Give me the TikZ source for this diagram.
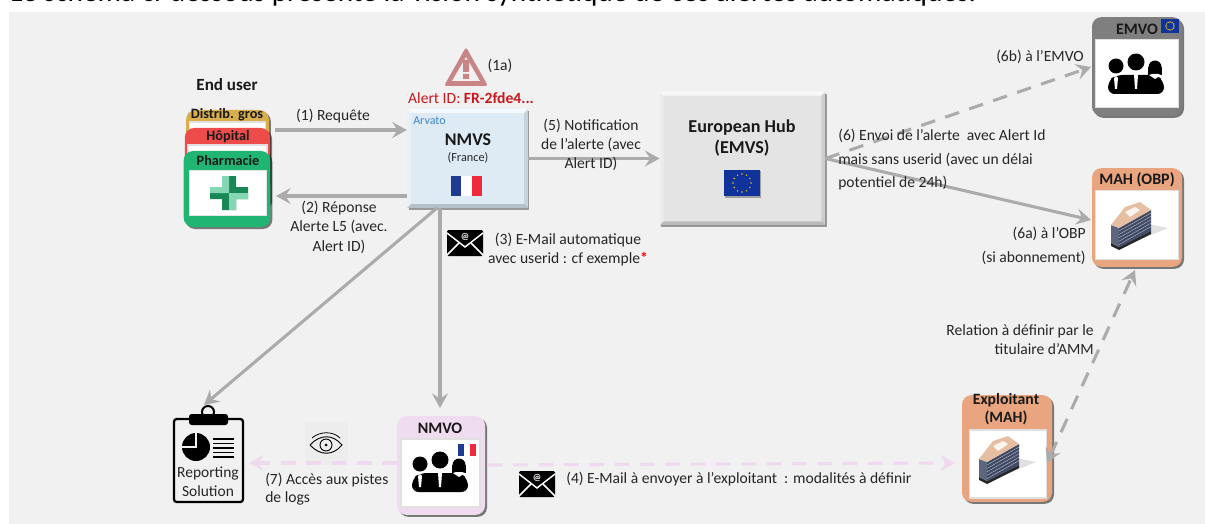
\documentclass[tikz,border=0pt]{standalone}
\usepackage{fontspec}
\setmainfont{Carlito}
\usetikzlibrary{arrows.meta,shadows}

\definecolor{panelgrey}{HTML}{F1F1F1}
\definecolor{arrowgrey}{HTML}{ABABAB}
\definecolor{linkpink}{HTML}{F0D9F0}
\definecolor{nmvoback}{HTML}{EFDCF0}
\definecolor{mahorange}{HTML}{E8A57F}
\definecolor{emvogrey}{HTML}{7F7F7F}
\definecolor{distgold}{HTML}{D9AE4C}
\definecolor{hopred}{HTML}{EE4B4B}
\definecolor{pharmgreen}{HTML}{21B573}
\definecolor{alertred}{HTML}{C8171D}
\definecolor{warnrose}{HTML}{C98585}
\definecolor{nmvsblue}{HTML}{DEEBF5}
\definecolor{hubgrey}{HTML}{E4E4E4}
\definecolor{arvatoblue}{HTML}{3B86C8}
\definecolor{frblue}{HTML}{1F3A93}
\definecolor{frred}{HTML}{EE2B3B}
\definecolor{eublue}{HTML}{10329B}
\definecolor{euyellow}{HTML}{E8C020}
\definecolor{slateface}{HTML}{3F4A66}
\definecolor{slateside}{HTML}{5C667C}
\definecolor{roofpeach}{HTML}{E6BFA2}

\newcommand{\frflag}[3]{% left, bottom, width
  \fill[frblue] (#1,#2) rectangle ++(#3/3,-#3*.66);
  \fill[white] (#1+#3/3,#2) rectangle ++(#3/3,-#3*.66);
  \fill[frred] (#1+2*#3/3,#2) rectangle ++(#3/3,-#3*.66);
}
\newcommand{\bevelbox}[1]{% lighter top and left, darker bottom and right
  \fill[white,opacity=.75] (#1.north west) -- (#1.north east) -- ([xshift=-3pt,yshift=-3pt]#1.north east) -- ([xshift=3pt,yshift=-3pt]#1.north west) -- cycle;
  \fill[white,opacity=.3] (#1.north west) -- (#1.south west) -- ([xshift=3pt,yshift=3pt]#1.south west) -- ([xshift=3pt,yshift=-3pt]#1.north west) -- cycle;
  \fill[black,opacity=.18] (#1.south west) -- (#1.south east) -- ([xshift=-3pt,yshift=3pt]#1.south east) -- ([xshift=3pt,yshift=3pt]#1.south west) -- cycle;
  \fill[black,opacity=.1] (#1.north east) -- (#1.south east) -- ([xshift=-3pt,yshift=3pt]#1.south east) -- ([xshift=-3pt,yshift=-3pt]#1.north east) -- cycle;
}

\tikzset{
  txt/.style={font=\fontsize{11.7}{14}\selectfont,text=black!85,inner sep=0pt},
  title/.style={font=\fontsize{12}{14}\selectfont\bfseries,text=black!90,inner sep=0pt},
  cardname/.style={title,font=\fontsize{10.7}{12}\selectfont\bfseries},
  sharp/.style={fill=#1,inner sep=0pt,
    drop shadow={shadow xshift=1pt,shadow yshift=-1.5pt,fill=black,opacity=.35}},
  card/.style={fill=#1,rounded corners=7pt,inner sep=0pt,
    drop shadow={shadow xshift=1.5pt,shadow yshift=-1.5pt,fill=black,opacity=.5}},
  pane/.style={fill=white,draw=black!12,line width=1.2pt,inner sep=0pt},
  link/.style={draw=arrowgrey,line width=2.3pt,-{Stealth[length=11pt,width=12pt,inset=4pt]}},
  duelink/.style={link,dash pattern=on 11pt off 8pt},
  pinklink/.style={duelink,draw=linkpink},
  people/.pic={
    \fill (-20,-9) circle (7.5);
    \fill (0,-13) circle (8.5);
    \fill (19,-8) circle (6.5);
    \fill (12,-8) rectangle (26,0);
    \fill[rounded corners=5pt] (-28,19) -- (-28,6) -- (-20,0) -- (20,0) -- (28,6) -- (28,19) -- cycle;
    \fill[white] (-20,1) -- (-18,3) -- (-19,14) -- (-21,14) -- (-22,3) -- cycle;
    \fill[white] (0,-3) -- (2,0) -- (1,14) -- (-1,14) -- (-2,0) -- cycle;
    \fill[white] (13,0) -- (19,4) -- (25,0) -- (22,-1) -- (16,-1) -- cycle;
  },
  building/.pic={
    \fill[black!12] (-9,23) -- (37,4) -- (17,0) -- cycle;
    \fill[black!85] (-20,19) -- (-12,23) -- (20,7) -- (20,10) -- (-12,26) -- (-20,22) -- cycle;
    \fill[slateside] (-20,1) -- (-12,4) -- (-12,23) -- (-20,19) -- cycle;
    \fill[slateface] (-12,4) -- (20,-14) -- (20,7) -- (-12,23) -- cycle;
    \foreach \row in {0,...,4}
      \draw[black!25,line width=.3pt] (-12,{7+\row*3.4}) -- (20,{-11+\row*3.4});
    \fill[roofpeach] (-20,1) -- (-12,4) -- (20,-14) -- (9,-22) -- (-6,-17) -- cycle;
    \fill[white!85!roofpeach] (-6,-12) -- (4,-17) -- (9,-14) -- (-1,-7) -- cycle;
  },
  envelope/.pic={
    \fill[rounded corners=1pt] (-18,-13) rectangle (18,13);
    \draw[white,line width=1.1pt] (-18,-10) -- (0,4) -- (18,-10);
    \draw[white,line width=1.1pt] (-18,12) -- (-6,0) (18,12) -- (6,0);
    \node (#1) [font=\fontsize{7}{7}\selectfont\bfseries,text=white,inner sep=0pt] at (0,-6) {@};
  },
  eustars/.pic={
    \foreach \ang in {0,30,...,330}
      \fill[euyellow] (\ang:#1) circle (.8);
  },
}

\begin{document}
\begin{tikzpicture}[x=0.75pt,y=-0.75pt]
\useasboundingbox (0,0) rectangle (1205,524);
\fill[white] (0,0) rectangle (1205,524);
\fill[panelgrey] (9,12) rectangle (1205,524);
\begin{scope}
\clip (0,0) rectangle (1205,12);
\node (intro) [anchor=base west,inner sep=0pt,font=\fontsize{22}{24}\selectfont] at (10,2)
  {Le schéma ci-dessous présente la vision synthétique de ces alertes automatiques.};
\end{scope}

% end user cards
\node (enduser) [title,font=\fontsize{12.8}{14}\selectfont\bfseries] at (227,85) {End user};
\node (distcard) [card=distgold,minimum width=62pt,minimum height=60pt] at (227.5,150) {};
\node (distpane) [pane,minimum width=57pt,minimum height=30pt] at (227.5,142) {};
\node (distname) [cardname] at (227,115) {Distrib. gros};
\node (hopcard) [card=hopred,minimum width=64pt,minimum height=60pt] at (227.5,168) {};
\node (hoppane) [pane,minimum width=59pt,minimum height=30pt] at (227.5,165) {};
\node (hopname) [cardname] at (228,137) {Hôpital};
\node (pharmcard) [card=pharmgreen,minimum width=65pt,minimum height=57pt] at (227,189) {};
\node (pharmpane) [pane,minimum width=58pt,minimum height=34pt,draw=black!10] at (228,193) {};
\node (pharmname) [cardname] at (228,161) {Pharmacie};
\fill[pharmgreen!75!black] (222,176) rectangle (236,210) (210,187) rectangle (248,199);
\fill[pharmgreen!55!white] (210,187) rectangle (229,193) (229,193) rectangle (248,199)
  (222,176) rectangle (229,193) (229,193) rectangle (236,210);

% nmvs
\fill[warnrose,rounded corners=2pt] (466,47) -- (444,86) -- (488,86) -- cycle;
\fill[panelgrey] (466,57) -- (452,81) -- (480,81) -- cycle;
\fill[warnrose] (463,60) rectangle (469,72) (463,74) rectangle (469,79);
\node (warnlabel) [txt] at (500,66) {(1a)};
\node (alertid) [txt,text=alertred] at (471,98) {Alert ID: \textbf{FR-2fde4...}};
\node (nmvs) [sharp=nmvsblue,minimum width=90.5pt,minimum height=74pt] at (467.5,158.5) {};
\bevelbox{nmvs}
\node (arvato) [txt,anchor=west,text=arvatoblue,font=\fontsize{9}{10}\selectfont] at (413,121) {Arvato};
\node (nmvsname) [title,font=\fontsize{13.4}{14}\selectfont\bfseries] at (468,140) {NMVS};
\node (nmvsland) [txt,font=\fontsize{9.2}{10}\selectfont] at (468,158) {(France)};
\frflag{451}{196}{31}

% european hub
\node (hub) [sharp=hubgrey,minimum width=124pt,minimum height=100pt] at (742.5,158.5) {};
\bevelbox{hub}
\node (hubname) [title,align=center,font=\fontsize{13.6}{16}\selectfont\bfseries] at (742,138) {European Hub\\(EMVS)};
\node (hubflag) [fill=eublue,minimum width=27pt,minimum height=20pt,inner sep=0pt,
  drop shadow={shadow xshift=1pt,shadow yshift=-1pt,fill=black,opacity=.3}] at (742,183) {};
\pic at (742,183) {eustars=9};

% emvo
\node (emvo) [card=emvogrey,minimum width=67.5pt,minimum height=74pt] at (1137,66.5) {};
\node (emvopane) [pane,minimum width=62pt,minimum height=51pt] at (1137,73.5) {};
\node (emvoname) [title] at (1137,29) {EMVO};
\node (emvoflag) [fill=eublue,minimum width=13.5pt,minimum height=10.5pt,inner sep=0pt] at (1170,26) {};
\pic at (1170,26) {eustars=4};
\pic at (1136,75) {people};

% mah obp
\node (obp) [card=mahorange,minimum width=67.5pt,minimum height=74pt] at (1137,217.5) {};
\node (obppane) [pane,minimum width=62pt,minimum height=52pt] at (1137,225) {};
\node (obpname) [title] at (1137,180) {MAH (OBP)};
\pic at (1131,224) {building};

% exploitant
\node (mah) [card=mahorange,minimum width=67.5pt,minimum height=80pt] at (1007,448.5) {};
\node (mahpane) [pane,minimum width=58pt,minimum height=51pt] at (1008,464) {};
\node (mahname) [title,align=center,font=\fontsize{11.8}{14}\selectfont\bfseries] at (1006,409) {Exploitant\\(MAH)};
\pic at (999,458) {building};

% nmvo
\node (nmvo) [card=nmvoback,minimum width=66pt,minimum height=74pt] at (441,465.5) {};
\node (nmvopane) [pane,minimum width=59pt,minimum height=51pt] at (440.5,473) {};
\node (nmvoname) [title] at (440,428) {NMVO};
\pic at (440,473) {people};
\frflag{458}{456}{18}

% reporting solution
\draw[line width=1.7pt,rounded corners=2pt] (190,419) -- (174,419) -- (174,502) -- (243,502) -- (243,419) -- (226,419);
\draw[line width=1.5pt] (208,412) circle (6);
\fill[rounded corners=2pt] (189,414) rectangle (228,425);
\fill (196,447) circle (14);
\draw[panelgrey,line width=1pt] (182,447) -- (196,447) -- (196,433);
\foreach \row in {439,443.5,...,461}
  \draw[line width=1.3pt] (213,\row) -- (234,\row);
\node (report) [txt,align=center,font=\fontsize{11.6}{14}\selectfont] at (208,482) {Reporting\\Solution};

% eye
\node (eyeback) [fill=black!7,minimum width=32pt,minimum height=32pt,inner sep=0pt] at (326.5,443.5) {};
\draw[line width=.7pt] (310,445) .. controls (320,434) and (333,434) .. (342,445) .. controls (333,456) and (320,456) .. (310,445);
\draw[line width=.7pt] (326,445) circle (6);
\fill (326,445) circle (1.5);
\draw[line width=.6pt] (312,438) .. controls (320,431) and (333,431) .. (340,438);

% connectors
\coordinate (reqstart) at (275,130);
\coordinate (reqend) at (nmvs.west |- reqstart);
\coordinate (repstart) at (nmvs.west |- 0,196);
\coordinate (repend) at (276,196);
\coordinate (notifstart) at (nmvs.east |- hub.west);
\coordinate (obpin) at (1091,220);
\coordinate (emvoin) at (1091,67);
\coordinate (logsend) at (249,463);
\coordinate (nmvoleft) at (397,463);
\coordinate (nmvoright) at (488,465);
\coordinate (mahin) at (955,463);
\coordinate (mailend) at (1135,270);
\coordinate (mailstart) at (1047,463);
\coordinate (nmvsout) at (440,208);
\coordinate (nmvsdiag) at (437,208);
\coordinate (reportin) at (204,405);
\coordinate (nmvotop) at (440,408);
\draw[link] (reqstart) -- (reqend);
\draw[link] (repstart) -- (repend);
\draw[link] (notifstart) -- (hub.west);
\draw[link] (hub.east) -- (obpin);
\draw[duelink] (hub.east) -- (emvoin);
\draw[link] (nmvsdiag) -- (reportin);
\draw[link] (nmvsout) -- (nmvotop);
\draw[pinklink] (nmvoleft) -- (logsend);
\draw[pinklink] (nmvoright) -- (mahin);
\draw[duelink,{Stealth[length=11pt,width=12pt,inset=4pt]}-{Stealth[length=11pt,width=12pt,inset=4pt]}] (mailstart) -- (mailend);

% labels
\node (reqtext) [txt] at (333,116) {(1) Requête};
\node (reptext) [txt,align=center,font=\fontsize{11.7}{14.6}\selectfont] at (339,227) {(2) Réponse\\Alerte L5 (avec.\\Alert ID)};
\node (notiftext) [txt,align=center,font=\fontsize{11.7}{14.2}\selectfont] at (591,145) {(5) Notification\\de l’alerte (avec\\Alert ID)};
\node (mailtext) [txt,align=center,font=\fontsize{11.7}{14.2}\selectfont] at (568,250) {(3) E-Mail automatique\\avec userid : cf exemple\textcolor{red}{\textbf{*}}};
\node (sendtext) [txt,align=left,anchor=north west,font=\fontsize{11.7}{17.6}\selectfont] at (838,129) {(6) Envoi de l’alerte\ \ avec Alert Id\\mais sans userid (avec un délai\\potentiel de 24h)};
\node (emvotext) [txt,anchor=east] at (1084,57) {(6b) à l’EMVO};
\node (obptext) [txt,anchor=east] at (1086,234) {(6a) à l’OBP};
\node (subtext) [txt,anchor=east] at (1086,258) {(si abonnement)};
\node (reltext) [txt,align=right,anchor=east,font=\fontsize{11.7}{14.2}\selectfont] at (1094,340) {Relation à définir par le\\titulaire d’AMM};
\node (logstext) [txt,align=left,anchor=west,font=\fontsize{11.7}{13.5}\selectfont] at (265,489) {(7) Accès aux pistes\\de logs};
\node (maphtext) [txt,anchor=west] at (566,479) {(4) E-Mail à envoyer à l’exploitant\ \ : modalités à définir};
\pic at (465,243) {envelope=mailone};
\pic at (537,484) {envelope=mailtwo};
\end{tikzpicture}
\end{document}
